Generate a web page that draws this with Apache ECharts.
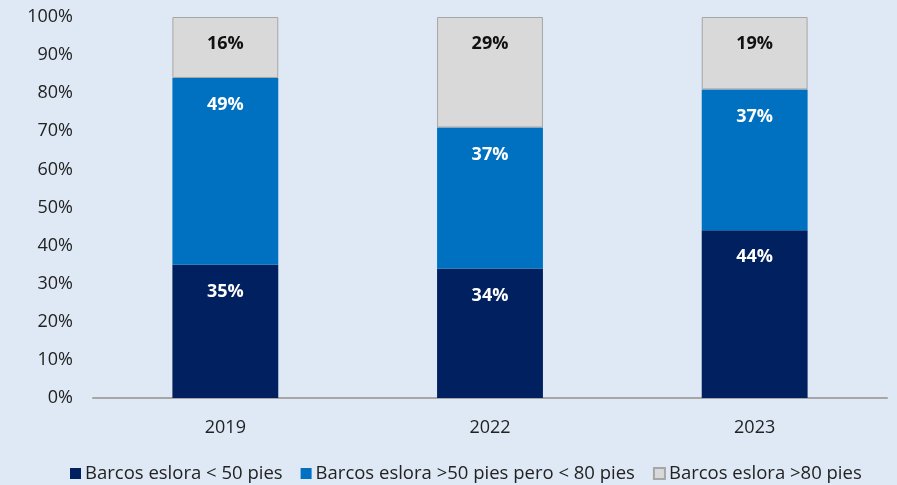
<!DOCTYPE html>
<html>
<head>
<meta charset="utf-8">
<script src="https://cdn.jsdelivr.net/npm/echarts@6/dist/echarts.min.js"></script>
<style>
  html, body { margin: 0; padding: 0; background: #dee9f5; }
  #chart { width: 897px; height: 485px; }
</style>
</head>
<body>
<div id="chart"></div>
<script>
const years = ["2019", "2022", "2023"];
const small = [35, 34, 44];
const medium = [49, 37, 37];
const large = [16, 29, 19];
const names = ["Barcos eslora < 50 pies", "Barcos eslora >50 pies pero < 80 pies", "Barcos eslora >80 pies"];

const font = "'Open Sans', Lato, sans-serif";

function label(color) {
    return {
        show: true,
        position: "insideTop",
        distance: 18,
        formatter: p => p.value + "%",
        color: color,
        fontFamily: font,
        fontWeight: "bold",
        fontSize: 18
    };
}

const chart = echarts.init(document.getElementById("chart"), null, { renderer: "canvas" });
chart.setOption({
    animation: false,
    backgroundColor: "#dee9f5",
    grid: { left: 93, right: 10, top: 17, bottom: 87 },
    legend: {
        bottom: -3,
        left: 65,
        itemWidth: 11,
        itemHeight: 11,
        itemGap: 18,
        icon: "rect",
        textStyle: { fontFamily: font, fontSize: 18.5, color: "#222", padding: [0, 0, 0, -1] },
        data: names
    },
    xAxis: {
        type: "category",
        data: years,
        axisTick: { show: false },
        axisLine: { lineStyle: { color: "#a6a6a6", width: 2 } },
        axisLabel: { fontFamily: font, fontSize: 18, color: "#222", margin: 21 }
    },
    yAxis: {
        type: "value",
        min: 0,
        max: 100,
        interval: 10,
        splitLine: { show: false },
        axisLabel: { formatter: "{value}%", fontFamily: font, fontSize: 18, color: "#222", margin: 20 }
    },
    series: [
        { name: names[0], type: "bar", stack: "s", barWidth: "40%", data: small,
          itemStyle: { color: "#002060" }, label: label("#fff") },
        { name: names[1], type: "bar", stack: "s", data: medium,
          itemStyle: { color: "#0070c0" }, label: label("#fff") },
        { name: names[2], type: "bar", stack: "s", data: large,
          itemStyle: { color: "#d9d9d9", borderColor: "#a6a6a6", borderWidth: 1 }, label: label("#111") }
    ]
});
</script>
</body>
</html>
